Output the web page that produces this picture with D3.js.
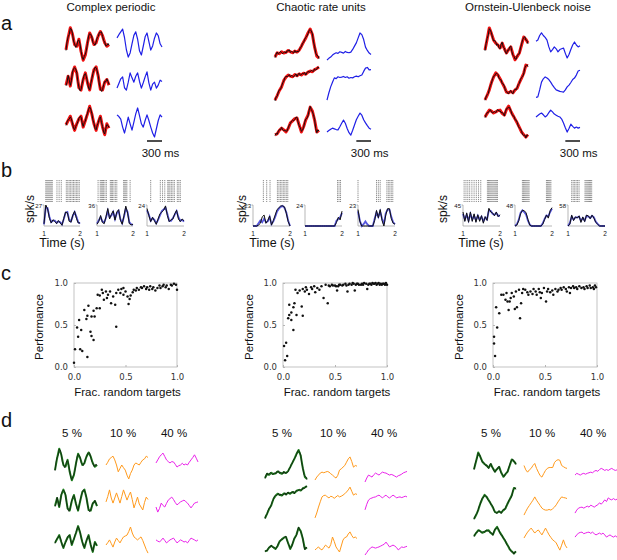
<!DOCTYPE html>
<html>
<head>
<meta charset="utf-8">
<script src="https://cdn.jsdelivr.net/npm/d3@7/dist/d3.min.js"></script>
<style>
  body { margin: 0; background: #fff; }
  text { font-family: "Liberation Sans", Arial, sans-serif; fill: #111; }
  .tick text { font-family: "DejaVu Sans", sans-serif; fill: #333; }
</style>
</head>
<body>
<svg id="fig" width="617" height="560"></svg>
<script>
// ─── Data ────────────────────────────────────────────────────
const titles = ['Complex periodic', 'Chaotic rate units', 'Ornstein-Ulenbeck noise'];
const traceMs = 900, barMs = 300;

// panel a: target (red), network output (black), other unit (blue), arbitrary units 0-10
const periodicRed = [
  [3.5,7,9.8,8,5,4.5,6.5,3,0.5,2,5.5,8.3,7,5,5.5,7.5,8.7,7.5,5.5,4.5,5],
  [3.3,6,3,7,8.8,7,2.5,1.8,5,7,4,1.8,5,8,8.8,6,2,1.8,4.2,5,3.3],
  [3.7,5,6.3,4,2,4,5.5,6.3,3,5,7,9.3,7,4,2,4.5,6.3,3,0.7,4,2.7]
];
const periodicBlack = [
  [3.3,5.8,7.2,7.9,9.6,9.4,8.2,6.0,5.2,4.2,4.7,6.1,6.3,5.2,3.2,1.4,0.7,1.6,2.2,3.4,5.3,7.4,8.1,7.9,7.2,5.6,5.2,4.8,5.7,6.9,7.3,8.4,8.5,8.6,7.3,6.1,5.7,4.6,4.7,5.3,4.8],
  [3.1,4.2,6.2,4.9,3.2,4.6,7.2,8.2,8.6,8.2,7.2,4.4,2.7,1.6,1.9,3.8,5.2,6.4,6.8,5.8,4.2,2.4,1.9,3.7,5.2,6.8,7.8,8.7,8.6,7.6,6.2,3.6,2.2,1.4,1.9,3.4,4.4,4.3,5.2,4.4,3.5],
  [3.5,4.6,5.2,5.4,6.1,5.5,4.2,2.7,2.2,3.2,3.8,4.6,5.7,6.2,6.1,4.3,3.2,4.4,4.8,6.3,7.2,8.4,9.1,8.4,7.2,5.2,4.2,2.6,2.2,3.5,4.3,5.6,6.1,4.4,3.2,1.5,0.9,2.6,3.8,3.5,2.9]
];
const periodicBlue = [
  [6.9,7.8,8.6,9.4,7,3.5,1.4,2.6,5.2,7.6,8.6,6.5,3.2,2,4.5,7.2,8.3,5.8,3.4,4.6,6.8,8.3,7.5,5.2,4.3],
  [2.4,3.8,5.2,5.8,2.5,1.8,4.2,7,5.5,4.2,6,7,4.4,2.4,4,5.8,7.3,4,1.8,3.6,4.2,2.4,3.3,4.8,4.4],
  [6.7,6.2,5.4,3,1.2,3.5,6,4,2.1,4.5,7,8.8,6.5,4,3,5,6.7,5,3,1.2,0,2.5,5,6.7,6]
];
const chaoticRed = [
  [1.2,2.5,2.2,2.8,2.4,2.6,3.2,2.8,2.5,3,2.7,3.3,4.5,5.8,7,8.5,9.7,8,4.2,1.5,0.9],
  [0.5,1.8,3.2,4.2,6,6.9,7.5,7.2,7,7.6,7.3,7.8,7.5,8,7.7,8.3,8.6,8.4,9,9.3,9.7],
  [1.2,1.5,2.5,3.1,2.6,2,3,4.6,5.2,5.8,6,4,2,3.5,5.5,6.8,9.1,8,5.4,2,2.5]
];
const chaoticBlack = [
  [1.0,2.1,2.7,2.1,2.4,2.9,2.6,2.2,2.6,2.8,2.4,3.1,3.0,3.4,2.6,2.9,2.7,2.4,3.2,2.6,2.9,2.8,3.1,4.1,4.3,5.4,5.6,6.6,7.2,7.5,8.3,9.3,9.5,9.1,8.2,5.8,4.4,2.4,1.7,1.6,0.7],
  [0.3,1.4,1.6,2.8,3.4,3.5,4.4,5.3,5.8,6.8,7.1,7.0,7.3,7.6,7.0,7.4,7.2,7.0,7.4,7.8,7.1,7.7,8.0,7.4,7.7,7.9,7.8,8.2,7.5,8.1,8.5,8.3,8.4,8.8,8.6,8.5,9.2,8.9,9.1,9.7,9.5],
  [1.0,1.6,1.3,2.2,2.7,2.6,3.3,2.6,2.4,2.5,2.2,2.3,3.2,4.0,4.4,5.1,5.4,5.2,5.6,6.2,6.2,4.8,3.8,3.2,2.2,2.5,3.3,4.8,5.7,5.9,6.6,8.2,9.3,8.4,7.8,6.9,5.6,3.0,1.8,2.6,2.3]
];
const chaoticBlue = [
  [0.3,0.8,1.2,1.8,2.2,2.5,2.3,2.8,2.6,2.4,2.9,2.6,2.5,2.7,3.5,4.5,5.5,7,8.5,8,6.5,4.2,3.2,2.4,2.0],
  [0.5,2.5,4.2,5.5,6.7,6.5,7,6.8,6.9,7.1,6.8,7,6.6,6.8,6.7,7,7.2,7,7.3,7.5,8.5,9.4,9.6,8.9,9],
  [2,2.4,2.8,3.1,2.9,2.7,2.6,3.5,4.5,5.4,4.5,3,1.8,1.1,2.5,4,5.5,6.5,7.4,6.8,5.5,4.6,3.8,3.1,2.8]
];
const ouRed = [
  [3.7,6.5,9.5,8,6.3,5.5,5,4.2,5.5,4,2.9,3.8,4.5,2.5,1.1,2,2.9,5,7.1,6.5,5.5],
  [0.3,1.5,3,5,6.5,7.6,7,6,4.9,3.8,2.4,2.2,2.6,2.2,3,3.5,5,6.2,7.5,9.7,9.5],
  [6.4,7.4,8.3,8,7.5,7.8,8.2,8.3,7.4,6.9,8.5,9.4,8,6.9,5.8,4.7,3.5,2.2,1.5,0.8,1.5]
];
const ouBlack = [
  [3.5,5.4,6.7,7.6,9.3,8.9,8.2,6.9,6.1,6.2,5.7,4.9,5.2,4.3,4.0,5.2,5.7,4.4,4.2,3.1,2.7,3.6,3.6,4.5,4.7,3.2,2.3,2.0,1.3,1.3,2.2,2.6,2.7,4.2,5.2,6.4,6.9,7.2,6.3,6.2,5.3],
  [0.2,1.1,1.7,2.0,3.2,4.2,4.8,6.0,6.7,6.8,7.4,7.5,7.2,6.2,5.8,5.7,4.7,4.6,4.0,2.8,2.6,2.1,2.0,2.6,2.8,2.2,2.0,2.8,3.2,3.0,3.7,4.5,4.8,5.8,6.4,6.6,7.3,8.9,9.5,9.8,9.3],
  [6.2,7.0,7.6,7.6,8.1,8.4,7.8,7.5,7.7,7.9,7.6,8.2,8.4,8.0,8.1,7.6,7.6,7.4,6.7,7.9,8.7,8.8,9.2,8.9,8.2,7.2,6.7,6.6,5.6,5.5,4.9,3.8,3.3,3.1,2.4,1.5,1.3,1.4,0.6,1.4,1.3]
];
const ouBlue = [
  [6,6.3,7.5,8.2,7.5,7,6.3,4.5,3.2,3.8,4.5,4,3.2,3.8,4,4.2,2.8,1.6,2.5,3.8,5,5.8,5,4.5,4.8],
  [1,1.1,3,5.1,6,6.5,6.2,5.8,5.1,4.3,3.6,3,2.8,2.6,2.5,2.4,3,3.8,4.3,5,5.8,6.2,7,8.1,8.3],
  [6.4,6.8,7.2,7.5,7,6.4,6.8,7.6,8.3,7.8,7.2,6.9,6.6,6.4,5.8,4.7,3.4,2.2,3.2,4.4,3.8,3.3,3.6,3.3,3.5]
];

// panel b: rasters (spike times, s) and rates (spk/s) at rateTimes
const rateTimes = [1,1.05,1.1,1.15,1.2,1.25,1.3,1.35,1.4,1.45,1.5,1.55,1.6,1.65,1.7,1.75,1.8,1.85,1.9,1.95,2];
const rateMax = [[27,36,24],[23,24,23],[45,48,58]];
const spikeTimes = [
  [[1.05,1.08,1.11,1.14,1.17,1.2,1.23,1.36,1.42,1.48,1.62,1.66,1.7,1.74,1.78,1.82,1.86,1.9,1.94,1.98],
   [1.03,1.09,1.12,1.15,1.18,1.22,1.26,1.37,1.4,1.43,1.47,1.51,1.55,1.74,1.77,1.8,1.83,1.92],
   [1.1,1.36,1.42,1.48,1.56,1.59,1.62,1.66,1.7,1.74,1.82,1.86,1.9]],
  [[1.28,1.37,1.46,1.66,1.7,1.74,1.78,1.82,1.86,1.9,1.94],
   [1.88,1.92,1.96],
   [1.0,1.5,1.55,1.6,1.78,1.82,1.86,1.9,1.94]],
  [[1.03,1.08,1.13,1.18,1.24,1.3,1.36,1.42,1.48,1.66,1.69,1.72,1.75,1.78,1.81,1.84,1.87,1.9,1.93],
   [1.2,1.23,1.26,1.29,1.32,1.35,1.38,1.85,1.88,1.91,1.94,1.97],
   [1.1,1.14,1.18,1.22,1.26,1.3,1.46,1.49,1.52,1.55,1.58,1.61,1.64]]
];
const rateBlack = [
  [[3,27,22,10,4,8,6,3,7,4,1,10,18,17,6,5,14,19,10,4,4],
   [3,8,18,6,4,16,30,12,20,26,10,24,28,10,3,18,34,22,4,2,3],
   [20,12,5,10,6,2,8,14,16,18,23,12,5,7,8,14,18,8,5,8,6]],
  [[0,0,0,1,3,10,12,3,6,11,1,6,12,18,20,22,22,21,14,5,0],
   [0,0,0,0,0,0,0,0,0,0,0,0,0,0,0,0,0,4,10,7,17],
   [18,5,0,0,0,0,0,0,0,6,17,9,18,6,0,12,19,19,8,3,2]],
  [[30,10,28,8,30,10,26,8,24,10,22,6,20,12,38,30,28,22,30,20,24],
   [0,2,12,28,36,35,30,15,2,0,0,0,0,0,0,4,15,25,18,35,42],
   [0,5,30,15,25,22,28,10,25,12,30,28,20,30,22,10,5,0,0,0,0]]
];
const rateBlue = [
  [[2,24,23,12,5,7,7,4,6,5,2,9,17,18,8,6,13,18,12,5,3],
   [4,10,15,8,6,14,26,15,18,24,12,22,26,12,5,16,30,24,6,3,2],
   [18,13,6,9,7,3,7,12,17,19,21,14,6,6,9,13,17,10,6,7,5]],
  [[0,0,0,3,6,4,8,4,5,10,2,5,10,16,19,21,22,20,15,6,0],
   [0,0,0,0,0,0,0,0,0,0,0,0,0,0,0,0,0,6,8,10,15],
   [16,6,0,2,5,2,0,0,0,8,15,10,16,8,2,14,18,18,10,4,2]],
  [[26,14,24,12,26,14,22,12,22,14,20,10,18,14,34,32,26,24,28,22,22],
   [0,4,14,30,36,32,26,12,3,0,0,0,0,0,0,6,16,24,22,32,40],
   [0,8,26,18,24,24,26,14,22,15,28,26,22,28,24,12,6,1,0,0,0]]
];

// panel c: performance vs fraction of random targets
const fracPeriodic = [0,0.01,0.03,0.04,0.05,0.06,0.07,0.08,0.1,0.12,0.13,0.14,0.13,0.16,0.17,0.17,0.19,0.19,0.2,0.22,0.23,0.25,0.25,0.27,0.28,0.29,0.31,0.32,0.33,0.35,0.36,0.38,0.4,0.41,0.41,0.43,0.45,0.46,0.48,0.48,0.5,0.52,0.53,0.54,0.55,0.57,0.58,0.6,0.61,0.63,0.65,0.66,0.68,0.7,0.71,0.73,0.74,0.76,0.77,0.79,0.81,0.83,0.84,0.86,0.87,0.89,0.9,0.92,0.94,0.95,0.97,0.99,1.0];
const perfPeriodic = [0.05,0.21,0.47,0.36,0.56,0.21,0.44,0.19,0.68,0.57,0.61,0.73,0.12,0.42,0.6,0.37,0.32,0.67,0.6,0.7,0.86,0.85,0.7,0.92,0.88,0.8,0.9,0.82,0.86,0.9,0.76,0.84,0.74,0.48,0.88,0.92,0.88,0.93,0.86,0.94,0.9,0.84,0.75,0.81,0.85,0.89,0.92,0.91,0.94,0.92,0.95,0.94,0.96,0.93,0.95,0.92,0.96,0.93,0.95,0.91,0.94,0.97,0.94,0.96,0.98,0.95,0.97,0.93,0.98,0.97,0.99,0.98,0.92];
const fracChaotic = [0.01,0.02,0.03,0.04,0.05,0.06,0.06,0.08,0.08,0.1,0.1,0.11,0.12,0.13,0.14,0.16,0.18,0.19,0.19,0.21,0.22,0.23,0.25,0.27,0.28,0.3,0.31,0.33,0.35,0.37,0.39,0.41,0.43,0.44,0.45,0.47,0.48,0.5,0.51,0.52,0.53,0.54,0.55,0.57,0.58,0.6,0.61,0.62,0.63,0.64,0.66,0.67,0.68,0.69,0.7,0.71,0.72,0.73,0.75,0.76,0.77,0.78,0.8,0.81,0.82,0.83,0.84,0.85,0.86,0.87,0.88,0.89,0.9,0.91,0.92,0.93,0.94,0.95,0.96,0.97,0.98,0.99,1.0];
const perfChaotic = [0.25,0.08,0.29,0.13,0.58,0.74,0.62,0.65,0.56,0.71,0.44,0.76,0.92,0.62,0.88,0.91,0.72,0.61,0.93,0.9,0.95,0.92,0.87,0.95,0.93,0.96,0.89,0.94,0.92,0.96,0.82,0.98,0.76,0.97,0.96,0.98,0.97,0.97,0.96,0.91,0.96,0.98,0.98,0.97,0.98,0.99,0.97,0.9,0.98,0.99,0.98,1.0,0.99,0.91,0.98,0.99,0.99,0.98,0.98,0.99,0.98,1.0,0.99,0.93,0.98,0.99,0.99,0.98,1.0,0.99,0.99,1.0,0.98,0.99,1.0,0.98,0.99,0.98,0.99,0.99,0.98,1.0,0.98];
const fracOU = [0.01,0.01,0.02,0.03,0.04,0.06,0.08,0.1,0.12,0.13,0.14,0.15,0.16,0.17,0.18,0.2,0.21,0.22,0.23,0.25,0.26,0.27,0.28,0.29,0.31,0.33,0.34,0.36,0.38,0.39,0.41,0.42,0.44,0.45,0.46,0.47,0.49,0.51,0.52,0.53,0.55,0.57,0.58,0.6,0.62,0.63,0.65,0.66,0.68,0.7,0.71,0.73,0.74,0.75,0.77,0.78,0.8,0.81,0.83,0.85,0.87,0.88,0.9,0.91,0.93,0.94,0.96,0.97,0.98,0.99];
const perfOU = [0.28,0.36,0.13,0.71,0.47,0.64,0.86,0.86,0.8,0.88,0.78,0.68,0.78,0.82,0.88,0.84,0.69,0.9,0.71,0.92,0.58,0.76,0.88,0.93,0.92,0.89,0.86,0.9,0.87,0.93,0.9,0.86,0.93,0.89,0.82,0.88,0.94,0.78,0.9,0.93,0.89,0.91,0.86,0.93,0.9,0.92,0.94,0.92,0.95,0.93,0.9,0.95,0.88,0.94,0.96,0.94,0.95,0.93,0.96,0.94,0.95,0.93,0.96,0.94,0.97,0.94,0.95,0.93,0.97,0.95];

// panel d: outputs with 5 % (green, = panel a target), 10 % (orange), 40 % (magenta)
const pctLabels = ['5 %', '10 %', '40 %'];
const orangeTraces = [
  [[5,5.8,6.8,7.2,7.6,6.5,5,3,4,5,4.2,3.5,2,0.9,2.5,3.5,5,5.6,5.3,5,5.8,6.5,6.8,7.6,7.2],
   [4.7,6.5,8.7,6,4.3,6,7.7,6,4.3,6.5,8.7,7,5.3,6.8,8,5.5,2.7,4.5,6.3,4,3,2,4.5,6.3,5.5],
   [3,3.8,4.7,3.5,2.3,4,5.3,4.5,3.7,4.8,5.7,6,6.3,7.5,9,7,5.7,5.2,4.7,5.2,5.7,4.5,3,1.5,0.3]],
  [[0.6,1.5,2.1,2.7,3,2.8,3,3.2,3,2.5,2.1,1.6,1.2,2,3.6,4,4.5,5,6,7,7.6,6.2,4.5,5,4.8],
   [0.6,2,3.7,5.2,6.6,7,7.1,6.6,6.3,6.8,6.6,6.2,6.6,7,6.6,6.8,7.1,7.5,8,8.6,9.4,8.2,7.1,7.5,7.3],
   [1.7,2.2,2.7,2,1.7,2.5,3.3,2.8,2.3,3.5,6,4.5,2.7,1.8,1,3,5,5.8,6,7,7.7,6.5,5.7,6,5.5]],
  [[5,3.5,2.7,3.5,4,5,5.7,4,2.7,1.5,1,2.2,3.3,4,4.3,4.3,4.3,6,6.7,7,6.8,5,4.6,4.2,4],
   [1.5,2.6,3.6,4.4,5.2,6,7,6,5.2,4.4,3.6,3.2,3,3,3.2,3,3.4,3.9,4.6,5.5,6.3,7,6.8,6.7,6.5],
   [5.8,6.8,7.7,8.4,9,8.2,7.4,8,8.4,7.6,6.8,7.9,9,7.9,6.8,6,5.2,4.8,4.2,3,1.9,3.5,5.2,3.5,2.6]]
];
const magentaTraces = [
  [[5.6,6.5,7.4,8,8.5,7.5,6.5,6,5.6,6,5.9,5.2,4.4,4.8,5,5.5,5,5.3,5,5.8,6.5,7.2,8,7,5.9],
   [3,1.3,2.5,4.3,3.5,3,4.2,5.3,5.8,6.3,5.5,4.5,3.7,4.2,4.7,5,5.3,4.8,4.3,3.5,2.7,3.5,4.3,4.5,4.7],
   [4.7,4.3,4,4.6,5.3,4.5,3.7,4.2,4.7,5,5.3,4.5,3.7,4.2,4.7,4.4,4,4.2,3.7,4.5,5.3,5,4.7,4.3,4.7]],
  [[0,1.2,2.1,1.8,1.5,2.2,2.7,2.4,2.1,2.6,3,2.8,2.7,2.4,2.1,2.3,2.1,1.8,1.5,1.9,2.1,2.4,2.8,3,3.2],
   [2.9,4.5,5.7,6.1,6.3,6.5,6.6,6.9,7.1,6.7,6.3,6.8,7.1,6.6,6.3,6.7,7.1,6.8,6.3,6.5,6.6,6.4,6.6,6.8,6.6],
   [0,0.8,1.7,2.2,2.7,2.5,2.3,2.5,2.7,3,3.3,3.6,4.3,3.5,2.7,3,3.3,3,2.5,1.7,2.2,2.7,2.5,2.7,2.9]],
  [[1.7,2.3,2,1.7,2.1,2.3,2,2.3,2.5,2.7,2.5,3,3.3,3,3.6,4,3.7,3.3,3.6,3.3,3.7,4,3.6,3.3,3.5],
   [2.1,3,3.6,3.8,3.9,3.6,3.9,4.2,3.9,4.5,4.2,3.9,4.3,4.6,5.2,4.8,5.4,6.1,5.6,6.7,6.3,6.1,6.5,6.1,6.3],
   [6.1,6.8,7.4,7.6,7.7,7.2,7.4,7.6,7.7,7.3,7.7,7.2,6.8,7.1,7.4,7,7.4,6.8,6.1,6.5,6.8,6.4,6.1,6.5,6.1]]
];

const redSets = [periodicRed, chaoticRed, ouRed];
const blackSets = [periodicBlack, chaoticBlack, ouBlack];
const blueSets = [periodicBlue, chaoticBlue, ouBlue];
const fracSets = [fracPeriodic, fracChaotic, fracOU];
const perfSets = [perfPeriodic, perfChaotic, perfOU];

// ─── Layout ──────────────────────────────────────────────────
const cols = [
  { title: 111, red: [66, 109], blue: [117, 162], rowsA: [[27, 62], [63, 96], [104, 137]],
    spk: 34, time: 62, sub: [[44, 80], [97, 133], [147, 184]],
    perfX: 43, box: [74, 177],
    pct: [72, 123, 174], d: [[55, 97], [106, 148], [156, 198]], rowsD: [[448, 482], [486, 516], [524, 554]] },
  { title: 321, red: [275, 319], blue: [327, 371], rowsA: [[28, 61], [66, 102], [104, 139]],
    spk: 246, time: 272, sub: [[253, 290], [305, 342], [358, 395]],
    perfX: 253, box: [283, 387],
    pct: [282, 333, 384], d: [[265, 307], [315, 357], [365, 407]], rowsD: [[449, 482], [485, 520], [525, 555]] },
  { title: 528, red: [485, 528], blue: [536, 580], rowsA: [[26, 64], [64, 101], [104, 140]],
    spk: 447, time: 481, sub: [[463, 500], [515, 552], [568, 605]],
    perfX: 463, box: [493, 597],
    pct: [491, 542, 593], d: [[474, 516], [524, 567], [575, 617]], rowsD: [[451, 480], [487, 520], [525, 556]] }
];

const svg = d3.select('#fig');

function trace(vals, xr, yr, color, width) {
  const x = d3.scaleLinear().domain([0, traceMs]).range(xr);
  const y = d3.scaleLinear().domain([0, 10]).range([yr[1], yr[0]]);
  const line = d3.line()
    .x((d, i) => x(i * traceMs / (vals.length - 1)))
    .y(d => y(d));
  svg.append('path').attr('d', line(vals))
    .attr('fill', 'none').attr('stroke', color)
    .attr('stroke-width', width).attr('stroke-linejoin', 'round');
  return x;
}

// panel letters
[['a', 30], ['b', 177], ['c', 280], ['d', 427]].forEach(([t, y]) =>
  svg.append('text').attr('x', 1).attr('y', y).attr('font-size', 20).text(t));

cols.forEach((c, ci) => {
  // titles
  svg.append('text').attr('x', c.title).attr('y', 11).attr('text-anchor', 'middle')
    .attr('font-size', 11.5).text(titles[ci]);

  // ── panel a
  let xb;
  c.rowsA.forEach((r, ri) => {
    trace(redSets[ci][ri], c.red, r, '#f01010', 3);
    trace(blackSets[ci][ri], c.red, r, '#111', 1);
    xb = trace(blueSets[ci][ri], c.blue, r, '#1f1fe6', 1.2);
  });
  svg.append('line').attr('x1', xb(traceMs - barMs)).attr('x2', xb(traceMs))
    .attr('y1', 141).attr('y2', 141).attr('stroke', '#222').attr('stroke-width', 1.6);
  svg.append('text').attr('x', (xb(traceMs - barMs) + xb(traceMs)) / 2 + 6).attr('y', 157)
    .attr('text-anchor', 'middle').attr('font-size', 11.5).text('300 ms');

  // ── panel b
  svg.append('text').attr('transform', `translate(${c.spk},209) rotate(-90)`)
    .attr('text-anchor', 'middle').attr('font-size', 12).text('spk/s');
  svg.append('text').attr('x', c.time).attr('y', 247).attr('text-anchor', 'middle')
    .attr('font-size', 12.5).text('Time (s)');
  c.sub.forEach((sr, si) => {
    const x = d3.scaleLinear().domain([1, 2]).range(sr);
    const y = d3.scaleLinear().domain([0, rateMax[ci][si]]).range([226, 205]);
    // raster
    svg.append('g').selectAll('line').data(spikeTimes[ci][si]).join('line')
      .attr('x1', d => x(d)).attr('x2', d => x(d)).attr('y1', 180).attr('y2', 202)
      .attr('stroke', '#555').attr('stroke-width', 0.7).attr('stroke-dasharray', '1.2,0.9');
    // axes
    svg.append('path').attr('d', `M${sr[0]},${y(rateMax[ci][si])}V226H${sr[1]}`)
      .attr('fill', 'none').attr('stroke', '#999').attr('stroke-width', 0.7);
    svg.append('line').attr('x1', sr[0] - 1.5).attr('x2', sr[0]).attr('y1', 205).attr('y2', 205)
      .attr('stroke', '#999').attr('stroke-width', 0.7);
    svg.append('text').attr('x', sr[0] - 2).attr('y', 207.5).attr('text-anchor', 'end')
      .attr('font-size', 6).attr('font-family', 'DejaVu Sans').text(rateMax[ci][si]);
    [1, 2].forEach(t => svg.append('text').attr('x', x(t)).attr('y', 235.5)
      .attr('text-anchor', 'middle').attr('font-size', 6.5).attr('font-family', 'DejaVu Sans').text(t));
    const line = d3.line().x((d, i) => x(rateTimes[i])).y(d => y(d));
    svg.append('path').attr('d', line(rateBlue[ci][si])).attr('fill', 'none')
      .attr('stroke', '#3a3ad8').attr('stroke-width', 1.8).attr('stroke-opacity', 0.85);
    svg.append('path').attr('d', line(rateBlack[ci][si])).attr('fill', 'none')
      .attr('stroke', '#111').attr('stroke-width', 1);
  });

  // ── panel c
  const x = d3.scaleLinear().domain([0, 1]).range(c.box);
  const y = d3.scaleLinear().domain([0, 1]).range([367, 283]);
  svg.append('rect').attr('x', c.box[0]).attr('y', 283).attr('width', c.box[1] - c.box[0])
    .attr('height', 84).attr('fill', 'none').attr('stroke', '#b5b5b5').attr('stroke-width', 0.8);
  const ax = svg.append('g').attr('transform', `translate(${c.box[0]},0)`)
    .call(d3.axisLeft(y).tickValues([0, 0.5, 1]).tickFormat(d3.format('.1f')).tickSize(-2).tickPadding(6));
  const bx = svg.append('g').attr('transform', 'translate(0,367)')
    .call(d3.axisBottom(x).tickValues([0, 0.5, 1]).tickFormat(d3.format('.1f')).tickSize(-2).tickPadding(6.5));
  [ax, bx].forEach(g => {
    g.select('.domain').remove();
    g.selectAll('.tick line').attr('stroke', '#b5b5b5');
    g.selectAll('.tick text').attr('font-size', 8.5);
  });
  svg.append('g').selectAll('circle').data(fracSets[ci]).join('circle')
    .attr('cx', d => x(d)).attr('cy', (d, i) => y(perfSets[ci][i])).attr('r', 1.25).attr('fill', '#111');
  svg.append('text').attr('transform', `translate(${c.perfX},327) rotate(-90)`)
    .attr('text-anchor', 'middle').attr('font-size', 11.5).text('Performance');
  svg.append('text').attr('x', (c.box[0] + c.box[1]) / 2 + 2).attr('y', 396)
    .attr('text-anchor', 'middle').attr('font-size', 11.5).text('Frac. random targets');

  // ── panel d
  c.pct.forEach((px, pi) => svg.append('text').attr('x', px).attr('y', 437)
    .attr('text-anchor', 'middle').attr('font-size', 11.5).text(pctLabels[pi]));
  c.rowsD.forEach((r, ri) => {
    trace(redSets[ci][ri], c.d[0], r, '#1c7c1c', 2);
    trace(blackSets[ci][ri], c.d[0], r, '#111', 0.7);
    trace(orangeTraces[ci][ri], c.d[1], r, '#ff9a1c', 1);
    trace(magentaTraces[ci][ri], c.d[2], r, '#ea22ea', 1);
  });
});
</script>
</body>
</html>
